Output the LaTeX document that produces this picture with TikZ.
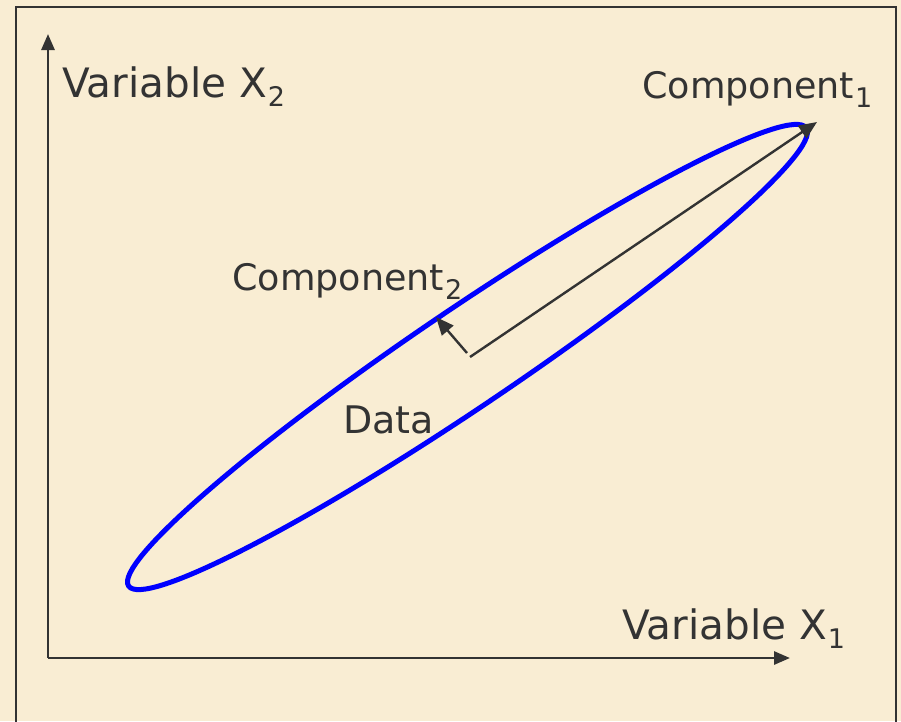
\documentclass[tikz,border=0pt]{standalone}
\usepackage{fontspec}
\setmainfont{DejaVu Sans}
\usetikzlibrary{arrows.meta}
\definecolor{parch}{HTML}{F9EDD3}
\definecolor{ink}{HTML}{333333}
\newcommand\mysub[1]{\kern1pt\raisebox{-9pt}{\fontsize{27}{27}\selectfont #1}}
\begin{document}
\begin{tikzpicture}[x=1pt,y=-1pt,
  lbl/.style={anchor=base west,inner sep=0pt,text=ink,font=\fontsize{#1}{44}\selectfont},
  lbl/.default=39,
  axis/.style={draw=ink,line width=2.8pt,-{Triangle[length=16pt,width=13pt]}},
  vec/.style={draw=ink,line width=2.4pt,-{Triangle[length=18pt,width=15pt]}},
  frame/.style={draw=ink,line width=2.8pt},
  datacurve/.style={draw=blue,line width=5pt}]
\fill[parch] (0,0) rectangle (901,721);
\useasboundingbox (0,0) rectangle (901,721);
\draw[frame] (16,725) -- (16,7) -- (896,7) -- (896,725);
\coordinate (O) at (48,658);
\coordinate (ytip) at (48,34);
\coordinate (xtip) at (790,658);
\coordinate (ctr) at (467.5,357);
\coordinate (c1s) at (470,357);
\coordinate (c1t) at (817,122);
\coordinate (c2s) at (467,353);
\coordinate (c2t) at (436,317);
\draw[axis] (O) -- (ytip);
\draw[axis] (O) -- (xtip);
\draw[datacurve, rotate around={34.05:(ctr)}] (ctr) ellipse [x radius=409, y radius=49];
\draw[vec] (c1s) -- (c1t);
\draw[vec] (c2s) -- (c2t);
\node[lbl=40.5] (vx2) at (62,97) {Variable X\mysub{2}};
\node[lbl=36.5] (comp1) at (642,98) {Component\mysub{1}};
\node[lbl=36.5] (comp2) at (232,290) {Component\mysub{2}};
\node[lbl=38] (data) at (343,433) {Data};
\node[lbl=40.5] (vx1) at (622,639) {Variable X\mysub{1}};
\end{tikzpicture}
\end{document}
